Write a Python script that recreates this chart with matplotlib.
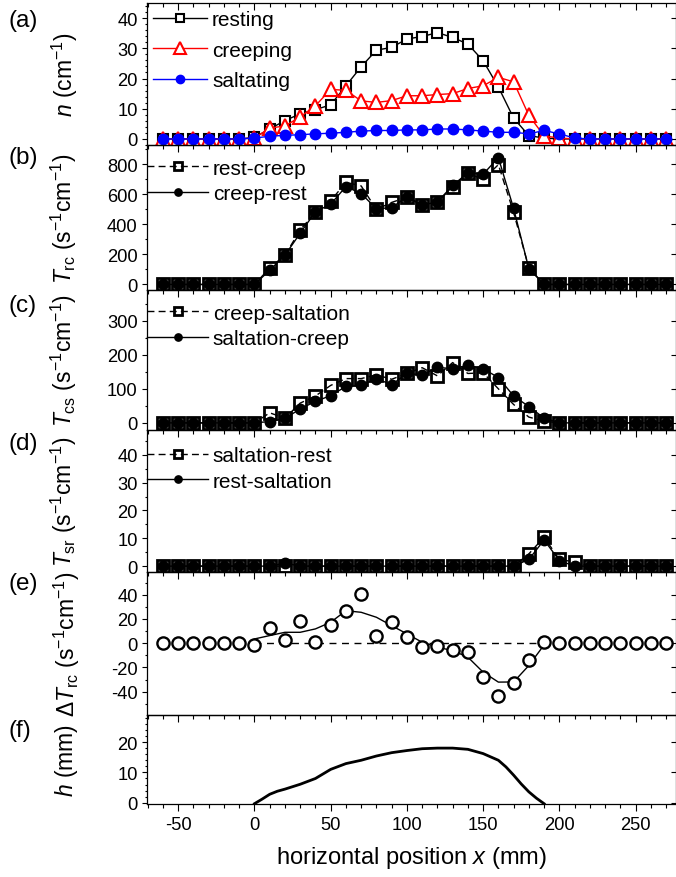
import numpy as np
import matplotlib.pyplot as plt
from matplotlib.ticker import MultipleLocator

plt.rcParams['font.family'] = ['Liberation Sans', 'DejaVu Sans']
plt.rcParams['mathtext.fontset'] = 'custom'
plt.rcParams['mathtext.rm'] = 'Liberation Sans'
plt.rcParams['mathtext.it'] = 'Liberation Sans:italic'
plt.rcParams['axes.unicode_minus'] = False

# sampling positions (mm)
x = list(range(-60, 271, 10))

# (a) number density n (cm^-1)
resting = [0, 0, 0, 0, 0, 0, 0.5, 3.3, 6.1, 8.3, 9.7, 11.3, 17.6, 23.9, 29.4, 30.3,
           33.1, 33.9, 35.2, 33.6, 31.4, 25.9, 17.2, 6.9, 1.1, 0.3,
           0, 0, 0, 0, 0, 0, 0, 0]
creeping = [0, 0, 0, 0, 0, 0, 0.3, 3.6, 4.3, 7.3, 11, 16.4, 16.1, 12.6, 12.1, 12.7,
            14.3, 14.3, 14.7, 15.0, 16.7, 17.6, 20.4, 18.9, 7.8, 1.0, 0.3,
            0, 0, 0, 0, 0, 0, 0]
saltating = [0, 0, 0, 0, 0, 0, 0.3, 0.9, 1.2, 1.4, 1.7, 1.9, 2.2, 2.6, 2.8, 2.8,
             3.0, 3.0, 3.3, 3.3, 3.0, 2.6, 2.2, 2.2, 1.7, 2.8, 1.7, 0.3,
             0, 0, 0, 0, 0, 0]

# (b) T_rc
rest_creep = [0, 0, 0, 0, 0, 0, 0, 110, 195, 363, 483, 558, 681, 657, 500, 547,
              582, 530, 547, 653, 742, 700, 799, 480, 111,
              0, 0, 0, 0, 0, 0, 0, 0, 0]
creep_rest = [0, 0, 0, 0, 0, 0, 0, 95, 195, 342, 485, 535, 653, 606, 505, 512,
              585, 530, 550, 660, 745, 735, 846, 507, 105,
              0, 0, 0, 0, 0, 0, 0, 0, 0]

# (c) T_cs
creep_salt = [0, 0, 0, 0, 0, 0, 0, 29.5, 14, 58, 79, 110, 130, 130, 141, 128,
              145, 162, 138, 177, 145, 147, 100, 54, 17, 5,
              0, 0, 0, 0, 0, 0, 0, 0]
salt_creep = [0, 0, 0, 0, 0, 0, 0, 4, 13, 41, 63, 80, 107, 110, 130, 112,
              145, 141, 163, 159, 169, 159, 133, 79, 48, 14,
              0, 0, 0, 0, 0, 0, 0, 0]

# (d) T_sr
salt_rest = [0, 0, 0, 0, 0, 0, 0, 0, 0, 0, 0, 0, 0, 0, 0, 0,
             0, 0, 0, 0, 0, 0, 0, 0, 4.4, 10.4, 2.4, 1.5,
             0, 0, 0, 0, 0, 0]
rest_salt = [0, 0, 0, 0, 0, 0, 0, 0, 1.1, 0, 0, 0, 0, 0, 0, 0,
             0, 0, 0, 0, 0, 0, 0, 0, 2.4, 9.4, 2.0, 0,
             0, 0, 0, 0, 0, 0]

# (e) Delta T_rc and its smoothed curve
dTrc = [0, 0, 0, 0, 0, 0, -1.4, 12.6, 3.0, 18.6, 1.3, 15.3, 26.3, 40.6, 6.3, 17.8,
        5.5, -3.3, -2.5, -5.2, -6.9, -28, -43.9, -32.9, -13.5, 0.8,
        0, 0, 0, 0, 0, 0, 0, 0]
x_smooth = list(range(0, 191, 10))
dTrc_smooth = [3.5, 6.3, 9.0, 9.0, 11.8, 17.3, 26.8, 25.5, 21.4, 14.5, 7.7, 0.8,
               -3.3, -6.1, -11.5, -23.9, -32.1, -32.0, -18.4, -1.4]

# (f) bed profile h (mm)
x_h = [0, 5, 10, 15, 20, 30, 40, 50, 60, 70, 80, 90, 100, 110, 120, 130, 140,
       150, 160, 165, 170, 175, 180, 185, 190]
h = [-0.3, 1.2, 2.8, 3.8, 4.5, 6.1, 8.0, 11.0, 12.9, 14.0, 15.4, 16.5, 17.2,
     17.8, 18.0, 18.0, 17.6, 16.2, 14.0, 11.8, 9.1, 6.2, 3.6, 1.5, -0.3]

RED = "#ff0000"
BLUE = "#0000ff"
TICK_FS = 13.2
LEG_FS = 15

fig = plt.figure(figsize=(6.76, 8.78), dpi=100)
W, H = 676.0, 878.0
left, right = 147.3, 675.5
# (top, bottom) pixel rows of the six panels
rows = [(4, 146), (146, 291), (291, 430.7), (430.7, 572.7), (572.7, 715.7), (715.7, 805)]
axes = []
for top, bot in rows:
    ax = fig.add_axes([left / W, 1 - bot / H, (right - left) / W, (bot - top) / H])
    ax.set_facecolor("none")
    axes.append(ax)

ylims = [(-2, 45), (-37, 930), (-20, 390), (-2, 49), (-59, 59), (-0.4, 29)]
ymin = [2, 100, 50, 5, 10, 2]
yticks = [[0, 10, 20, 30, 40], [0, 200, 400, 600, 800], [0, 100, 200, 300],
          [0, 10, 20, 30, 40], [-40, -20, 0, 20, 40], [0, 10, 20]]
ylabels = [r"$n$ (cm$^{-1}$)",
           r"$T_{\mathrm{rc}}$ (s$^{-1}$cm$^{-1}$)",
           r"$T_{\mathrm{cs}}$ (s$^{-1}$cm$^{-1}$)",
           r"$T_{\mathrm{sr}}$ (s$^{-1}$cm$^{-1}$)",
           r"$\Delta T_{\mathrm{rc}}$ (s$^{-1}$cm$^{-1}$)",
           r"$h$ (mm)"]
ylabel_x = [-0.128, -0.13, -0.13, -0.13, -0.124, -0.128]
letters = ["(a)", "(b)", "(c)", "(d)", "(e)", "(f)"]
letter_y = [21, 158, 306, 444, 584, 731]

for i, ax in enumerate(axes):
    ax.set_xlim(-70.3, 276.2)
    ax.set_ylim(*ylims[i])
    ax.xaxis.set_major_locator(MultipleLocator(50))
    ax.xaxis.set_minor_locator(MultipleLocator(10))
    ax.set_yticks(yticks[i])
    ax.yaxis.set_minor_locator(MultipleLocator(ymin[i]))
    ax.tick_params(axis="x", which="major", direction="out", length=5, width=0.8,
                   labelsize=TICK_FS, labelbottom=(i == 5))
    ax.tick_params(axis="x", which="minor", direction="out", length=3, width=0.8)
    ax.tick_params(axis="y", which="major", direction="out", length=3.4, width=0.8,
                   labelsize=TICK_FS, pad=3.5)
    ax.tick_params(axis="y", which="minor", direction="out", length=1.8, width=0.8)
    for s in ax.spines.values():
        s.set_linewidth(0.9)
    sec = ax.secondary_yaxis("right")
    sec.set_yticks(yticks[i])
    sec.tick_params(direction="in", length=3.4, width=0.8, labelright=False)
    sec.spines["right"].set_visible(False)
    ax.set_ylabel(ylabels[i], fontsize=16.5)
    ax.yaxis.set_label_coords(ylabel_x[i], 0.5)
    fig.text(8 / W, 1 - letter_y[i] / H, letters[i], fontsize=17.5, va="center", ha="left")

topx = axes[0].secondary_xaxis("top")
topx.xaxis.set_major_locator(MultipleLocator(50))
topx.xaxis.set_minor_locator(MultipleLocator(10))
topx.tick_params(which="major", direction="in", length=5, width=0.8, labeltop=False)
topx.tick_params(which="minor", direction="in", length=3, width=0.8)
topx.spines["top"].set_visible(False)

# (a)
ax = axes[0]
ax.plot(x, resting, "-s", color="black", lw=1.0, ms=7.8, mfc="white", mec="black",
        mew=1.5, label="resting")
ax.plot(x, creeping, "-^", color=RED, lw=1.0, ms=10.5, mfc="white", mec=RED,
        mew=1.5, label="creeping")
ax.plot(x, saltating, "-o", color=BLUE, lw=1.0, ms=7.5, mfc=BLUE, mec=BLUE,
        label="saltating")
ax.legend(loc="upper left", bbox_to_anchor=(0.01, 0.95), frameon=False, fontsize=LEG_FS,
          handlelength=2.6, handletextpad=0.25, borderpad=0, borderaxespad=0,
          labelspacing=0.55, markerscale=0.8)

# (b)-(d)
pairs = [(rest_creep, creep_rest, "rest-creep", "creep-rest", 0.905),
         (creep_salt, salt_creep, "creep-saltation", "saltation-creep", 0.903),
         (salt_rest, rest_salt, "saltation-rest", "rest-saltation", 0.882)]
for ax, (sq, ci, l1, l2, ytop) in zip(axes[1:4], pairs):
    ax.plot(x, sq, "--s", color="black", lw=1.0, dashes=(5, 3), ms=8.5, mfc="none",
            mec="black", mew=2.0, label=l1)
    ax.plot(x, ci, "-o", color="black", lw=1.0, ms=7.5, mfc="black", mec="black",
            label=l2)
    ax.legend(loc="upper left", bbox_to_anchor=(0.0, ytop), frameon=False, fontsize=LEG_FS,
              handlelength=2.9, handletextpad=0.25, borderpad=0, borderaxespad=0,
              labelspacing=0.3, markerscale=0.7)

# (e)
ax = axes[4]
ax.hlines(0, x_smooth[0], x_smooth[-1], colors="black", linestyles=(0, (5, 4)), lw=1.0)
ax.plot(x_smooth, dTrc_smooth, "-", color="black", lw=1.0)
ax.plot(x, dTrc, "o", ms=8.8, mfc="white", mec="black", mew=1.7)

# (f)
ax = axes[5]
ax.plot(x_h, h, "-", color="black", lw=2.0)
ax.set_xlabel(r"horizontal position $x$ (mm)", fontsize=17, labelpad=8)

fig.savefig("out.png", dpi=100)
